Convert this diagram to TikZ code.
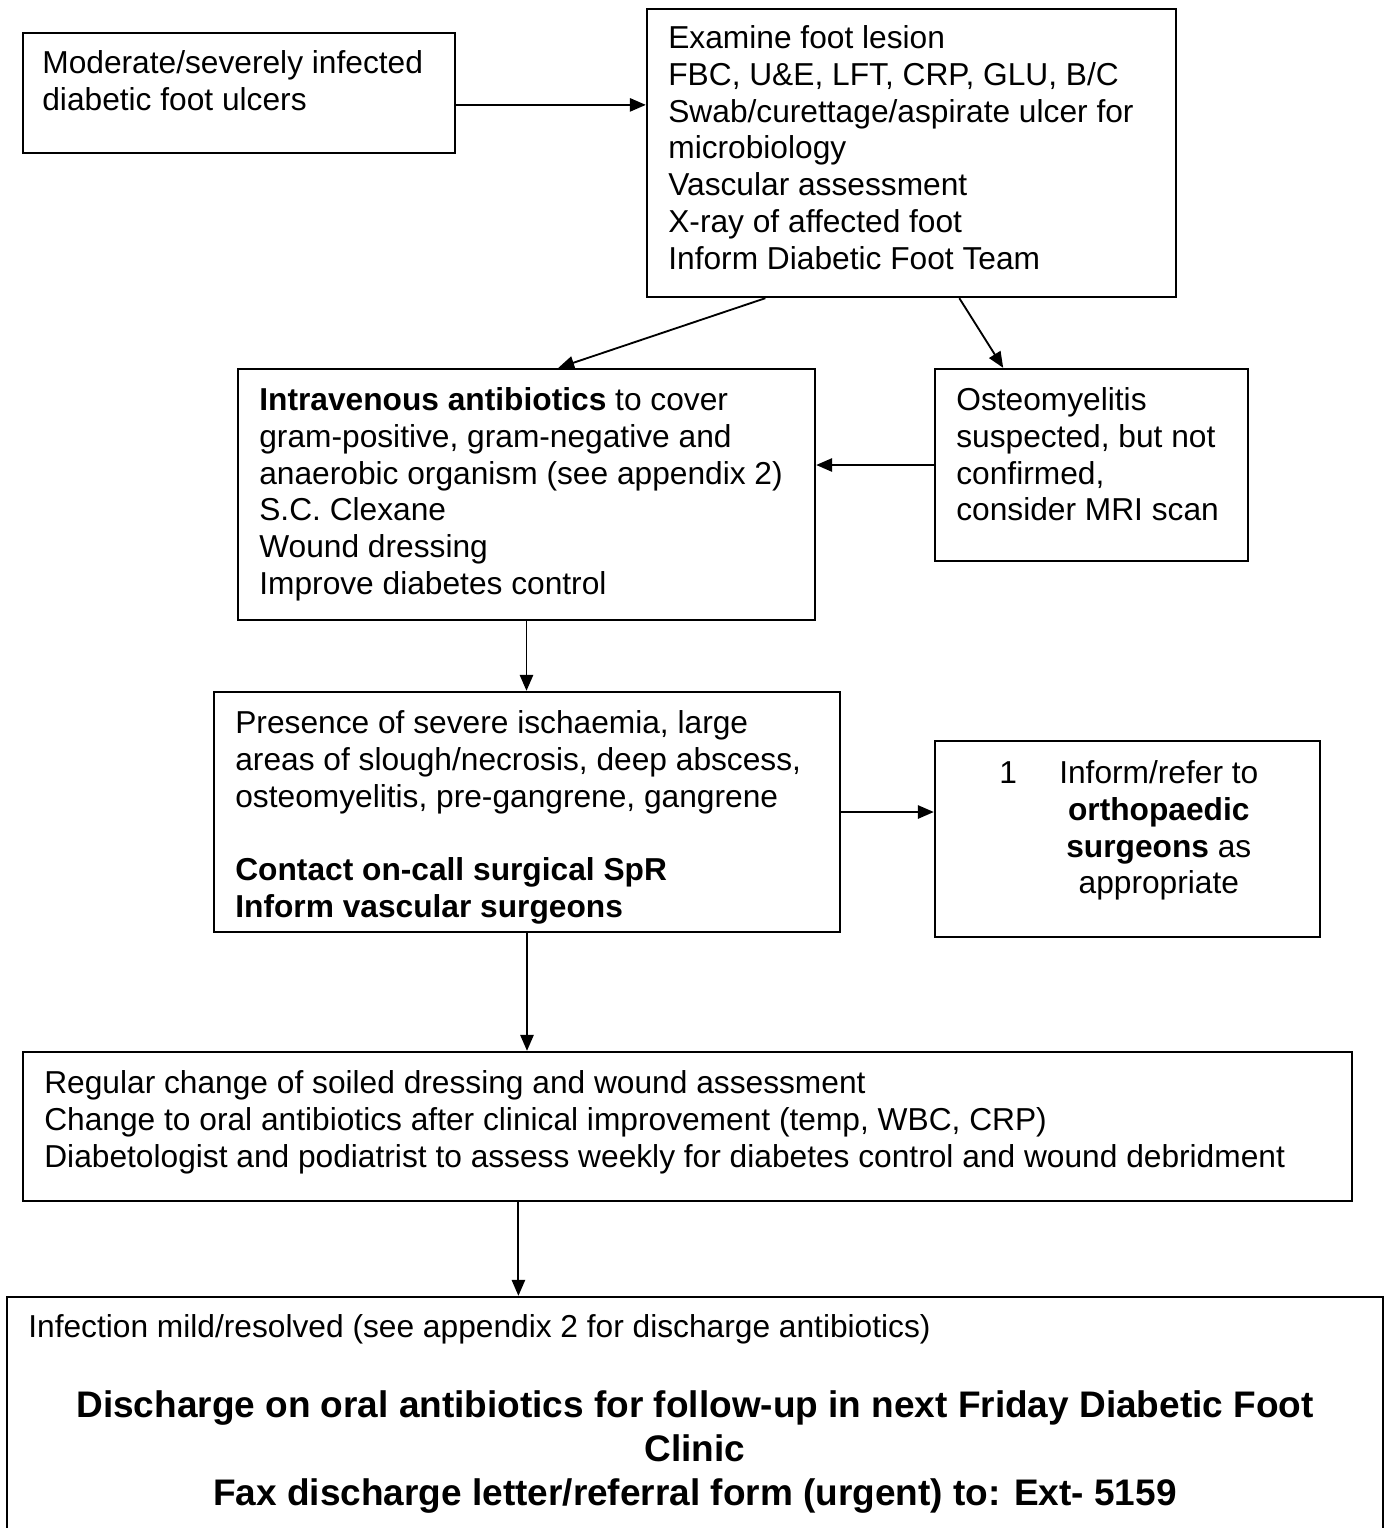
\documentclass[tikz,border=0pt]{standalone}
\usepackage{fontspec}
\setmainfont{Liberation Sans}
\usetikzlibrary{arrows.meta, positioning, calc, fit}

\tikzset{
  frame/.style={draw, line width=0.9pt, inner sep=0pt},
  txt/.style={anchor=north west, align=left, inner sep=0pt, font=\fontsize{12}{13.9}\selectfont},
  flow/.style={-{Triangle[length=6pt, width=5pt]}, line width=0.7pt},
}

\begin{document}
\begin{tikzpicture}[x=0.3785pt, y=-0.3785pt]
  \useasboundingbox (0,0) rectangle (1385,1528);

  % boxes
  \node[frame, fit={(23,33) (455,153)}] (ulcer) {};
  \node[frame, fit={(647,9) (1176,297)}] (workup) {};
  \node[frame, fit={(238,369) (815,620)}] (iv) {};
  \node[frame, fit={(935,369) (1248,561)}] (osteo) {};
  \node[frame, fit={(214,692) (840,932)}] (severe) {};
  \node[frame, fit={(935,741) (1320,937)}] (ortho) {};
  \node[frame, fit={(23,1052) (1352,1201)}] (care) {};
  \node[frame, fit={(7,1297) (1383,1560)}] (discharge) {};

  % texts
  \node[txt] (ulcertxt) at ($(ulcer.north west)+(20,18.5)$)
    {Moderate/severely infected\\diabetic foot ulcers};
  \node[txt] (workuptxt) at ($(workup.north west)+(22,17.5)$)
    {Examine foot lesion\\FBC, U\&E, LFT, CRP, GLU, B/C\\Swab/curettage/aspirate ulcer for\\microbiology\\Vascular assessment\\X-ray of affected foot\\Inform Diabetic Foot Team};
  \node[txt] (ivtxt) at ($(iv.north west)+(22,19.5)$)
    {\textbf{Intravenous antibiotics} to cover\\gram-positive, gram-negative and\\anaerobic organism (see appendix 2)\\S.C. Clexane\\Wound dressing\\Improve diabetes control};
  \node[txt] (osteotxt) at ($(osteo.north west)+(22,19.5)$)
    {Osteomyelitis\\suspected, but not\\confirmed,\\consider MRI scan};
  \node[txt] (severetxt) at ($(severe.north west)+(22,19.5)$)
    {Presence of severe ischaemia, large\\areas of slough/necrosis, deep abscess,\\osteomyelitis, pre-gangrene, gangrene\\[13.9pt]\textbf{Contact on-call surgical SpR}\\\textbf{Inform vascular surgeons}};
  \node[txt, anchor=north, align=center] (orthotxt) at ($(ortho.north west)+(225,20.5)$)
    {\llap{1\hspace{16pt}}Inform/refer to\\\textbf{orthopaedic}\\\textbf{surgeons} as\\appropriate};
  \node[txt] (caretxt) at ($(care.north west)+(22,19.5)$)
    {Regular change of soiled dressing and wound assessment\\Change to oral antibiotics after clinical improvement (temp, WBC, CRP)\\Diabetologist and podiatrist to assess weekly for diabetes control and wound debridment};
  \node[txt] (dischargetxt) at ($(discharge.north west)+(22,18.5)$)
    {Infection mild/resolved (see appendix 2 for discharge antibiotics)};
  \node[txt, anchor=north, align=center, font=\fontsize{14}{16.6}\selectfont\bfseries] (clinictxt)
    at ($(discharge.north)+(0,94.5)$)
    {Discharge on oral antibiotics for follow-up in next Friday Diabetic Foot\\Clinic\\Fax discharge letter/referral form (urgent) to: Ext- 5159};

  % connectors
  \draw[flow] ([yshift=-4.5pt]ulcer.east) -- ([yshift=-4.5pt]ulcer.east -| workup.west);
  \draw[flow] ($(workup.south west)!0.225!(workup.south east)$) -- ($(iv.north west)!0.555!(iv.north east)$);
  \draw[flow] ($(workup.south west)!0.59!(workup.south east)$) -- ($(osteo.north west)!0.22!(osteo.north east)$);
  \draw[flow] (osteo.west) -- (osteo.west -| iv.east);
  \draw[flow] (iv.south) -- (iv.south |- severe.north);
  \draw[flow] (severe.east) -- (severe.east -| ortho.west);
  \draw[flow] (severe.south) -- (severe.south |- care.north);
  \coordinate (carefoot) at ($(care.south west)!0.373!(care.south east)$);
  \draw[flow] (carefoot) -- (carefoot |- discharge.north);
\end{tikzpicture}
\end{document}
